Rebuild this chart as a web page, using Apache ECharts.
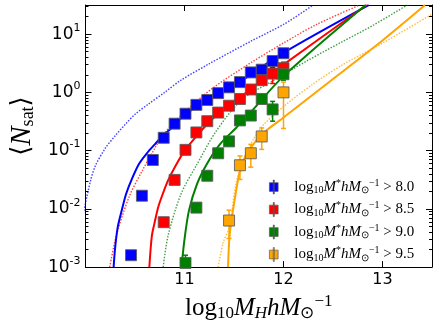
<!DOCTYPE html>
<html>
<head>
<meta charset="utf-8">
<script src="https://cdn.jsdelivr.net/npm/echarts@6/dist/echarts.min.js"></script>
<style>
  html, body { margin: 0; padding: 0; background: #fff; }
  #chart { width: 436px; height: 327px; }
</style>
</head>
<body>
<div id="chart"></div>
<script>
// halo mass bins (log10 M_H h/Msun)
const massBins = [10.46, 10.57, 10.68, 10.79, 10.90, 11.01, 11.12, 11.23, 11.34, 11.45, 11.56, 11.67, 11.78, 11.89, 12.00]

// measured <N_sat> per stellar mass threshold
const nsatBlue = [0.0016, 0.0168, 0.069, 0.166, 0.29, 0.43, 0.61, 0.74, 0.97, 1.22, 1.5, 2.2, 2.45, 3.45, 4.7]
const nsatRed = [null, null, null, 0.0059, 0.0314, 0.103, 0.205, 0.32, 0.45, 0.59, 0.77, 1.12, 1.62, 2.1, 2.6]
const nsatGreen = [null, null, null, null, null, 0.00118, 0.0105, 0.037, 0.09, 0.144, 0.33, 0.40, 0.77, 0.51, 2.05]
const nsatOrange = [null, null, null, null, null, null, null, null, null, 0.0063, 0.056, 0.09, 0.175, null, 1.0]

// error bar ends
const loBlue = [0.0014, 0.0155, 0.065, 0.158, 0.275, 0.41, 0.58, 0.70, 0.92, 1.15, 1.4, 2.05, 2.25, 2.7, 4.2]
const hiBlue = [0.0018, 0.018, 0.074, 0.175, 0.305, 0.45, 0.64, 0.78, 1.02, 1.3, 1.6, 2.35, 2.65, 4.0, 5.6]
const loRed = [null, null, null, 0.0052, 0.029, 0.097, 0.195, 0.30, 0.42, 0.55, 0.72, 1.03, 1.45, 1.42, 1.96]
const hiRed = [null, null, null, 0.0067, 0.034, 0.11, 0.215, 0.34, 0.48, 0.63, 0.83, 1.22, 1.8, 2.55, 3.3]
const loGreen = [null, null, null, null, null, 0.0008, 0.0095, 0.034, 0.084, 0.135, 0.30, 0.37, 0.68, 0.32, 1.62]
const hiGreen = [null, null, null, null, null, 0.0016, 0.0115, 0.04, 0.097, 0.155, 0.36, 0.44, 0.85, 0.70, 2.55]
const loOrange = [null, null, null, null, null, null, null, null, null, 0.0031, 0.032, 0.052, 0.105, null, 0.24]
const hiOrange = [null, null, null, null, null, null, null, null, null, 0.0095, 0.081, 0.128, 0.245, null, 1.5]

// model curves, solid = fit, dotted = second model  ([log10 M_H, <N_sat>])
const fitBlue = [[10.284, 0.001], [10.30, 0.0022], [10.327, 0.005], [10.37, 0.01], [10.41, 0.018], [10.47, 0.033], [10.54, 0.059], [10.62, 0.09], [10.70, 0.128], [10.78, 0.18], [10.87, 0.245], [11.0, 0.41], [11.2, 0.68], [11.4, 1.05], [11.58, 1.6], [12.0, 4.8], [12.86, 31.6]]
const fitRed = [[10.645, 0.001], [10.67, 0.0034], [10.70, 0.006], [10.735, 0.0108], [10.78, 0.018], [10.833, 0.0306], [10.91, 0.055], [11.0, 0.099], [11.1, 0.16], [11.193, 0.245], [11.34, 0.43], [11.56, 0.82], [11.78, 1.6], [12.0, 3.0], [12.84, 31.6]]
const fitGreen = [[10.97, 0.001], [11.0, 0.003], [11.046, 0.0095], [11.128, 0.027], [11.226, 0.059], [11.357, 0.128], [11.52, 0.245], [11.58, 0.32], [11.68, 0.48], [12.0, 1.9], [12.83, 31.6]]
const fitOrange = [[11.44, 0.001], [11.455, 0.0034], [11.49, 0.0095], [11.553, 0.04], [11.60, 0.07], [11.65, 0.1], [11.78, 0.19], [12.0, 0.37], [12.5, 1.7], [13.0, 7.8], [13.43, 31.6]]
const altBlue = [[9.978, 0.0083], [10.05, 0.03], [10.1, 0.055], [10.2, 0.11], [10.3, 0.18], [10.4, 0.28], [10.5, 0.42], [10.63, 0.62], [10.8, 1.0], [10.96, 1.6], [11.25, 3.1], [11.68, 7.7], [12.01, 15], [12.3, 31.6]]
const altRed = [[10.245, 0.001], [10.31, 0.0034], [10.44, 0.016], [10.573, 0.045], [10.703, 0.112], [10.8, 0.2], [10.9, 0.31], [11.0, 0.46], [11.29, 1.2], [11.68, 3.3], [12.01, 7.2], [12.34, 14.8], [12.77, 31.6]]
const altGreen = [[10.785, 0.001], [10.833, 0.0034], [10.965, 0.018], [11.128, 0.059], [11.32, 0.216], [11.58, 0.75], [11.9, 1.6], [12.24, 3.5], [12.6, 7.5], [12.9, 14], [13.25, 31.6]]
const altOrange = [[11.34, 0.001], [11.39, 0.0026], [11.455, 0.005], [11.52, 0.027], [11.617, 0.087], [11.7, 0.16], [11.8, 0.28], [12.0, 0.57], [12.3, 1.4], [12.6, 3.0], [13.0, 7.0], [13.5, 22]]

const thresholds = ['8.0', '8.5', '9.0', '9.5']
const colors = ['#0000ff', '#ff0000', '#008000', '#ffa500']

const yMajor = [0.001, 0.01, 0.1, 1, 10]
const yMinor = []
yMajor.forEach(d => { for (let k = 2; k <= 9; k++) if (d * k < 31.6) yMinor.push(d * k) })

const sets = [
  { y: nsatBlue, lo: loBlue, hi: hiBlue, fit: fitBlue, alt: altBlue },
  { y: nsatRed, lo: loRed, hi: hiRed, fit: fitRed, alt: altRed },
  { y: nsatGreen, lo: loGreen, hi: hiGreen, fit: fitGreen, alt: altGreen },
  { y: nsatOrange, lo: loOrange, hi: hiOrange, fit: fitOrange, alt: altOrange }
]

const mathRich = {
  n: { fontFamily: 'Liberation Serif', fontSize: 15, color: '#000' },
  i: { fontFamily: 'Liberation Serif', fontStyle: 'italic', fontSize: 15, color: '#000' },
  s: { fontFamily: 'Liberation Serif', fontSize: 10, color: '#000', padding: [7, 0, 0, 0] },
  p: { fontFamily: 'Liberation Serif', fontSize: 10, color: '#000', padding: [0, 0, 8, 0] }
}

const series = []
sets.forEach((s, k) => {
  const name = thresholds[k]
  series.push({
    type: 'line', name: 'fit' + k, data: s.fit, showSymbol: false, smooth: 0.3,
    lineStyle: { color: colors[k], width: 2 }, z: 2, silent: true
  })
  series.push({
    type: 'line', name: 'alt' + k, data: s.alt, showSymbol: false, smooth: 0.3,
    lineStyle: { color: colors[k], width: 1.4, type: [1.5, 1.5], opacity: 0.75 }, z: 1, silent: true
  })
  const bars = []
  const pts = []
  massBins.forEach((m, i) => {
    if (s.y[i] == null) return
    pts.push([m, s.y[i]])
    if (s.lo[i] != null) bars.push([m, s.lo[i], s.hi[i]])
  })
  series.push({
    type: 'custom', name: name, data: bars, clip: true, z: 3,
    renderItem: (params, api) => {
      const top = api.coord([api.value(0), api.value(2)])
      const bot = api.coord([api.value(0), api.value(1)])
      const style = { stroke: colors[k], lineWidth: 1.5 }
      return {
        type: 'group',
        children: [
          { type: 'line', shape: { x1: top[0], y1: top[1], x2: bot[0], y2: bot[1] }, style },
          { type: 'line', shape: { x1: top[0] - 2.5, y1: top[1], x2: top[0] + 2.5, y2: top[1] }, style },
          { type: 'line', shape: { x1: bot[0] - 2.5, y1: bot[1], x2: bot[0] + 2.5, y2: bot[1] }, style }
        ]
      }
    }
  })
  series.push({
    type: 'scatter', name: name, data: pts, symbol: 'rect', symbolSize: 11, z: 4,
    itemStyle: { color: colors[k], borderColor: 'rgba(90,90,90,0.85)', borderWidth: 1, opacity: 1 }
  })
})

const barIcon = 'path://M0,3H10V13H0Z M4.4,0H5.6V16H4.4Z'

const tickInside = (len) => ({ show: true, inside: true, length: len, lineStyle: { color: '#000', width: 1 } })

const chart = echarts.init(document.getElementById('chart'), null, { renderer: 'canvas' })
chart.setOption({
  animation: false,
  backgroundColor: '#fff',
  grid: { left: 76, right: 4, top: 5, bottom: 56, show: false },
  legend: {
    orient: 'vertical', left: 264, top: 173, itemGap: 5, itemWidth: 11, itemHeight: 14,
    selectedMode: false,
    data: thresholds.map((t, k) => ({ name: t, icon: barIcon, itemStyle: { color: colors[k], borderColor: 'rgba(90,90,90,0.85)', borderWidth: 0.8 } })),
    formatter: (t) => '{n|log}{s|10}{i|M}{p|*}{i|hM}{s|⊙}{p|−1}{n| > ' + t + '}',
    textStyle: { rich: mathRich, padding: [0, 0, 0, 10] }
  },
  xAxis: [
    {
      type: 'value', position: 'bottom', min: 10, max: 13.5, interval: 1,
      axisLine: { show: true, lineStyle: { color: '#000', width: 1 } },
      axisTick: tickInside(6),
      axisLabel: { showMinLabel: false, showMaxLabel: false, margin: 5, fontSize: 16, fontFamily: 'DejaVu Sans', color: '#000' },
      splitLine: { show: false },
      name: '{n|log}{s|10}{i|M}{t|H}{i|hM}{s|⊙}{p|−1}',
      nameLocation: 'middle', nameGap: 22,
      nameTextStyle: {
        rich: {
          n: { fontFamily: 'Liberation Serif', fontSize: 25, color: '#000' },
          i: { fontFamily: 'Liberation Serif', fontStyle: 'italic', fontSize: 25, color: '#000' },
          s: { fontFamily: 'Liberation Serif', fontSize: 17, color: '#000', padding: [11, 0, 0, 0] },
          t: { fontFamily: 'Liberation Serif', fontStyle: 'italic', fontSize: 17, color: '#000', padding: [11, 0, 0, 0] },
          p: { fontFamily: 'Liberation Serif', fontSize: 17, color: '#000', padding: [0, 0, 13, 0] }
        }
      }
    },
    {
      type: 'value', position: 'top', min: 10, max: 13.5, interval: 1,
      axisLine: { show: true, lineStyle: { color: '#000', width: 1 } },
      axisTick: tickInside(6), axisLabel: { show: false }, splitLine: { show: false }
    }
  ],
  yAxis: [
    {
      type: 'log', logBase: 10, min: 0.001, max: 31.62, interval: 1, position: 'left',
      axisLine: { show: true, lineStyle: { color: '#000', width: 1 } },
      axisTick: tickInside(6),
      axisLabel: {
        showMaxLabel: false, margin: 5,
        formatter: (v) => '{b|10}{e|' + Math.round(Math.log10(v)) + '}',
        rich: {
          b: { fontFamily: 'DejaVu Sans', fontSize: 17, color: '#000' },
          e: { fontFamily: 'DejaVu Sans', fontSize: 11, color: '#000', padding: [0, 0, 12, 0] }
        }
      },
      splitLine: { show: false },
      name: '⟨{i|N}{s|sat}⟩',
      nameLocation: 'middle', nameGap: 44, nameRotate: 90,
      nameTextStyle: {
        fontFamily: 'DejaVu Serif', fontSize: 26, color: '#000', padding: [0, 0, 0, 20],
        rich: {
          i: { fontFamily: 'Liberation Serif', fontStyle: 'italic', fontSize: 29, color: '#000' },
          s: { fontFamily: 'Liberation Serif', fontSize: 18, color: '#000', padding: [11, 0, 0, 0] }
        }
      }
    },
    {
      type: 'log', logBase: 10, min: 0.001, max: 31.62, interval: 1, position: 'right',
      axisLine: { show: true, lineStyle: { color: '#000', width: 1 } },
      axisTick: tickInside(6), axisLabel: { show: false }, splitLine: { show: false }
    },
    {
      type: 'log', logBase: 10, min: 0.001, max: 31.62, position: 'left',
      axisLine: { show: false }, axisLabel: { show: false }, splitLine: { show: false },
      axisTick: Object.assign(tickInside(3), { customValues: yMinor })
    },
    {
      type: 'log', logBase: 10, min: 0.001, max: 31.62, position: 'right',
      axisLine: { show: false }, axisLabel: { show: false }, splitLine: { show: false },
      axisTick: Object.assign(tickInside(3), { customValues: yMinor })
    }
  ],
  series: series
})
</script>
</body>
</html>
